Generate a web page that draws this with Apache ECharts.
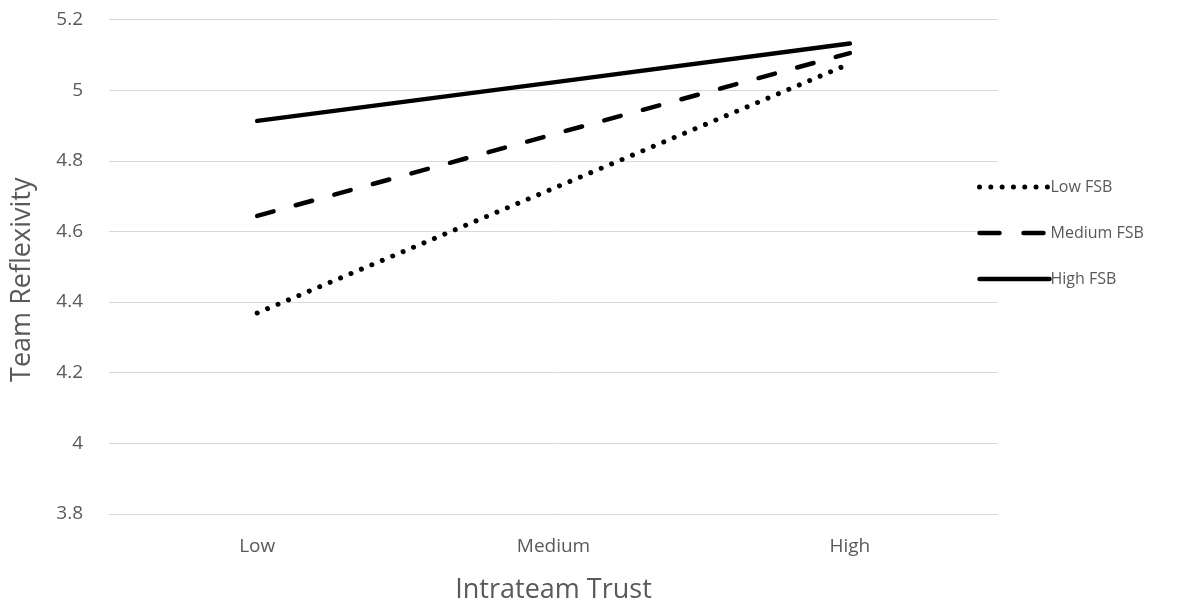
<!DOCTYPE html>
<html><head><meta charset="utf-8">
<script src="https://cdn.jsdelivr.net/npm/echarts@6/dist/echarts.min.js"></script>
<style>html,body{margin:0;padding:0;background:#fff}#c{width:1179px;height:601px}</style>
</head><body><div id="c"></div>
<script>
const categories = ['Low', 'Medium', 'High'];
const lowFSB = [4.369, 4.722, 5.075];
const mediumFSB = [4.644, 4.875, 5.105];
const highFSB = [4.913, 5.022, 5.132];
const yTicks = [3.8, 4.0, 4.2, 4.4, 4.6, 4.8, 5.0, 5.2];
const seriesNames = ['Low FSB', 'Medium FSB', 'High FSB'];

const font = 'Open Sans';
const txt = '#595959';
const styles = {
  dot: {color: '#000', width: 5, type: [0.01, 11.3], cap: 'round'},
  dash: {color: '#000', width: 4.5, type: [17, 23], cap: 'round'},
  solid: {color: '#000', width: 4.5, type: 'solid', cap: 'round'}
};
const kinds = ['dot', 'dash', 'solid'];
const chart = echarts.init(document.getElementById('c'), null, {renderer: 'canvas'});
function ser(name, data, kind) {
  return {
    name, type: 'line', data, symbol: 'none', smooth: false,
    lineStyle: styles[kind], itemStyle: {color: '#000'},
    emphasis: {disabled: true}
  };
}
chart.setOption({
  animation: false,
  grid: {left: 109, right: 181, top: 19.5, bottom: 87, outerBoundsMode: 'none', containLabel: false},
  legend: {
    orient: 'vertical', left: 972, top: 174, itemGap: 30, itemWidth: 70, itemHeight: 16,
    textStyle: {fontFamily: font, fontSize: 16, color: txt, padding: [0,0,0,-4]},
    itemStyle: {opacity: 0},
    data: seriesNames.map((n, i) => ({name: n, lineStyle: Object.assign({}, styles[kinds[i]], {type: kinds[i] === 'dot' ? [0.01, 11.3] : (kinds[i] === 'dash' ? [20, 24] : 'solid')}), itemStyle: {opacity: 0}}))
  },
  xAxis: {
    type: 'category', data: categories, boundaryGap: true,
    axisLine: {lineStyle: {color: '#d9d9d9', width: 1}}, axisTick: {show: false},
    axisLabel: {fontFamily: font, fontSize: 19, color: txt, margin: 23},
    name: 'Intrateam Trust', nameLocation: 'middle', nameGap: 63,
    nameTextStyle: {fontFamily: font, fontSize: 27, color: txt}
  },
  yAxis: {
    type: 'value', min: 3.8, max: 5.2, interval: 0.2,
    axisLine: {show: false}, axisTick: {show: false},
    splitLine: {lineStyle: {color: '#d9d9d9', width: 1}},
    axisLabel: {fontFamily: font, fontSize: 19, color: txt, margin: 26,
      formatter: v => { const t = yTicks.find(x => Math.abs(x - v) < 1e-6); return t === undefined ? '' : String(+t.toFixed(1)); }},
    name: 'Team Reflexivity', nameLocation: 'middle', nameGap: 73, nameRotate: 90,
    nameTextStyle: {fontFamily: font, fontSize: 27, color: txt, padding: [0, 26, 0, 0]}
  },
  series: seriesNames.map((n, i) => ser(n, [lowFSB, mediumFSB, highFSB][i], kinds[i]))
});
</script></body></html>
